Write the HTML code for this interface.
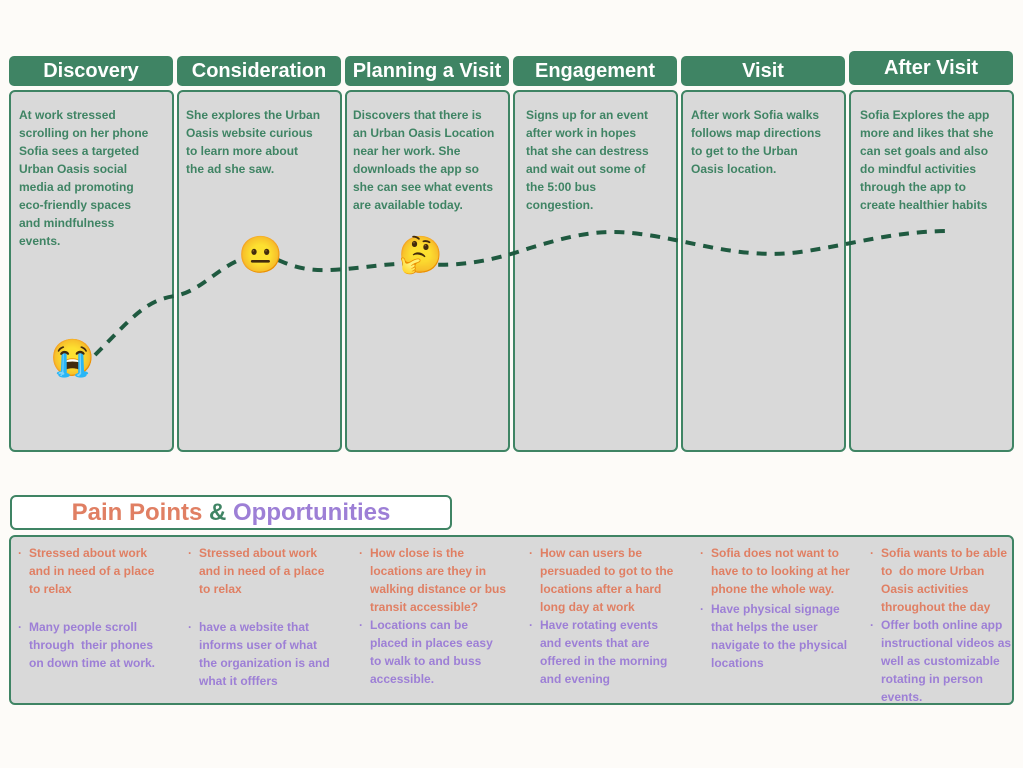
<!DOCTYPE html><html><head><style>
body{margin:0;width:1023px;height:768px;background:#fdfbf8;position:relative;font-family:"Liberation Sans",sans-serif;overflow:hidden}
.h{position:absolute;background:#3f8464;color:#fff;font-weight:bold;font-size:20px;text-align:center;border-radius:5px;height:30px;line-height:30px;width:164px}
.c{position:absolute;top:90px;height:358px;width:161px;background:#d9d9d9;border:2px solid #3f8464;border-radius:6px}
.t{position:absolute;font-size:12px;font-weight:bold;color:#3f8464;line-height:18px;white-space:nowrap}
.p{position:absolute;font-size:12px;font-weight:bold;line-height:18px;white-space:nowrap}
.o{color:#e07f63}.u{color:#9d7fd6}
.p div{position:relative;padding-left:11px}
.p div:before{content:"·";position:absolute;left:0}
</style></head><body>
<div class="h" style="left:9px;top:56px">Discovery</div>
<div class="h" style="left:177px;top:56px">Consideration</div>
<div class="h" style="left:345px;top:56px">Planning a Visit</div>
<div class="h" style="left:513px;top:56px">Engagement</div>
<div class="h" style="left:681px;top:56px">Visit</div>
<div class="h" style="left:849px;top:51px;height:34px;line-height:34px">After Visit</div>
<div class="c" style="left:9px"></div><div class="c" style="left:177px"></div><div class="c" style="left:345px"></div><div class="c" style="left:513px"></div><div class="c" style="left:681px"></div><div class="c" style="left:849px"></div>
<div class="t" style="left:19px;top:106px">At work stressed<br>scrolling on her phone<br>Sofia sees a targeted<br>Urban Oasis social<br>media ad promoting<br>eco-friendly spaces<br>and mindfulness<br>events.</div>
<div class="t" style="left:186px;top:106px">She explores the Urban<br>Oasis website curious<br>to learn more about<br>the ad she saw.</div>
<div class="t" style="left:353px;top:106px">Discovers that there is<br>an Urban Oasis Location<br>near her work. She<br>downloads the app so<br>she can see what events<br>are available today.</div>
<div class="t" style="left:526px;top:106px">Signs up for an event<br>after work in hopes<br>that she can destress<br>and wait out some of<br>the 5:00 bus<br>congestion.</div>
<div class="t" style="left:691px;top:106px">After work Sofia walks<br>follows map directions<br>to get to the Urban<br>Oasis location.</div>
<div class="t" style="left:860px;top:106px">Sofia Explores the app<br>more and likes that she<br>can set goals and also<br>do mindful activities<br>through the app to<br>create healthier habits</div>
<svg style="position:absolute;left:0;top:0" width="1023" height="768"><path d="M95,355 C130,320 145,300 175,296 C205,290 220,262 255,255 C275,252 285,272 330,270 C370,268 390,262 420,264 C450,266 480,265 530,248 C570,236 600,228 640,234 C690,240 740,260 800,252 C850,245 890,232 945,231" fill="none" stroke="#1f5a40" stroke-width="4" stroke-dasharray="10,8"/></svg>
<div style="position:absolute;left:50px;top:336px;font-size:36px;line-height:44px">😭</div>
<div style="position:absolute;left:238px;top:233px;font-size:36px;line-height:44px">😐</div>
<div style="position:absolute;left:398px;top:233px;font-size:36px;line-height:44px">🤔</div>
<div style="position:absolute;left:10px;top:495px;width:438px;height:31px;border:2px solid #3f8464;border-radius:6px;background:#fff;text-align:center;font-size:24px;font-weight:bold;line-height:31px"><span class="o">Pain Points</span> <span style="color:#3f8464">&amp;</span> <span class="u">Opportunities</span></div>
<div style="position:absolute;left:9px;top:535px;width:1001px;height:166px;border:2px solid #3f8464;border-radius:6px;background:#d9d9d9"></div>
<div class="p" style="left:18px;top:544px"><div class="o">Stressed about work<br>and in need of a place<br>to relax</div><div class="u" style="margin-top:20px">Many people scroll<br>through&nbsp; their phones<br>on down time at work.</div></div>
<div class="p" style="left:188px;top:544px"><div class="o">Stressed about work<br>and in need of a place<br>to relax</div><div class="u" style="margin-top:20px">have a website that<br>informs user of what<br>the organization is and<br>what it offfers</div></div>
<div class="p" style="left:359px;top:544px"><div class="o">How close is the<br>locations are they in<br>walking distance or bus<br>transit accessible?</div><div class="u">Locations can be<br>placed in places easy<br>to walk to and buss<br>accessible.</div></div>
<div class="p" style="left:529px;top:544px"><div class="o">How can users be<br>persuaded to got to the<br>locations after a hard<br>long day at work</div><div class="u">Have rotating events<br>and events that are<br>offered in the morning<br>and evening</div></div>
<div class="p" style="left:700px;top:544px"><div class="o">Sofia does not want to<br>have to to looking at her<br>phone the whole way.</div><div class="u" style="margin-top:2px">Have physical signage<br>that helps the user<br>navigate to the physical<br>locations</div></div>
<div class="p" style="left:870px;top:544px"><div class="o">Sofia wants to be able<br>to&nbsp; do more Urban<br>Oasis activities<br>throughout the day</div><div class="u">Offer both online app<br>instructional videos as<br>well as customizable<br>rotating in person<br>events.</div></div>
</body></html>
